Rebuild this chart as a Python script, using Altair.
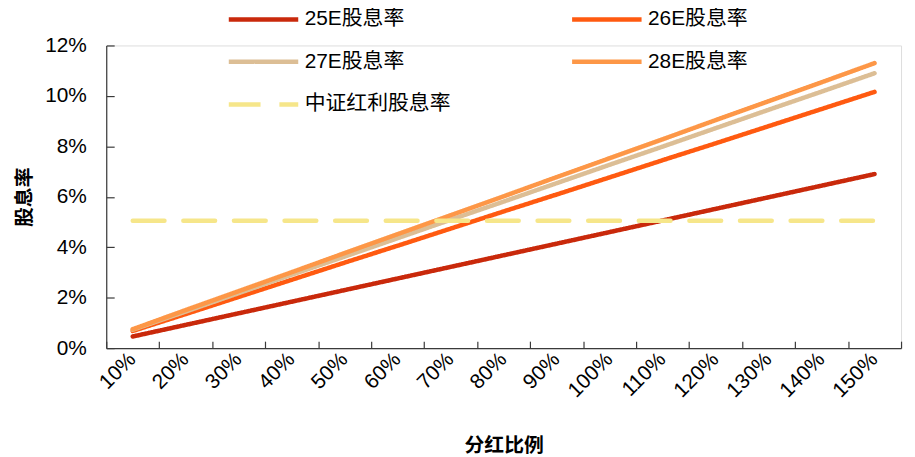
import altair as alt
import pandas as pd

ratios = ["10%", "20%", "30%", "40%", "50%", "60%", "70%", "80%", "90%", "100%",
          "110%", "120%", "130%", "140%", "150%"]
e25 = [0.46, 0.92, 1.38, 1.84, 2.30, 2.76, 3.22, 3.68, 4.14, 4.60, 5.06, 5.52, 5.98, 6.44, 6.90]
e26 = [0.68, 1.35, 2.03, 2.71, 3.39, 4.06, 4.74, 5.42, 6.09, 6.77, 7.45, 8.12, 8.80, 9.48, 10.16]
e27 = [0.73, 1.45, 2.18, 2.91, 3.63, 4.36, 5.09, 5.81, 6.54, 7.27, 7.99, 8.72, 9.45, 10.17, 10.90]
e28 = [0.75, 1.51, 2.26, 3.01, 3.77, 4.52, 5.27, 6.02, 6.78, 7.53, 8.28, 9.04, 9.79, 10.54, 11.30]
csi = [5.05] * 15

series_names = ["25E股息率", "26E股息率", "27E股息率", "28E股息率", "中证红利股息率"]
colors = ["#C9290B", "#FF5A10", "#DCBE95", "#FD9747", "#F6E68A"]
dashes = [[1, 0], [1, 0], [1, 0], [1, 0], [32, 19]]
y_ticks = [0, 2, 4, 6, 8, 10, 12]

rows = []
for name, vals in zip(series_names, [e25, e26, e27, e28, csi]):
    for r, v in zip(ratios, vals):
        rows.append({"ratio": r, "value": v, "series": name})
df = pd.DataFrame(rows)

FONT = "Liberation Sans, Noto Sans CJK SC"
AX = "#3a3a3a"

legend = alt.Legend(
    title=None, orient="none", legendX=121, legendY=-39, columns=2, direction="horizontal",
    symbolType="M-1,0H6", symbolSize=400, symbolStrokeWidth=4.5,
    labelFont=FONT, labelFontSize=21, labelColor="#000000", labelOffset=54,
    columnPadding=113, rowPadding=20, labelLimit=0, padding=0, gridAlign="each",
)

base = alt.Chart(df)

lines = base.mark_line(strokeWidth=4.5, strokeCap="round").encode(
    x=alt.X("ratio:N", sort=ratios, title="分红比例",
            scale=alt.Scale(paddingInner=0, paddingOuter=0),
            axis=alt.Axis(labelAngle=-45, labelAlign="right", labelBaseline="middle",
                          ticks=False, labelPadding=8, labelFont=FONT, labelFontSize=21,
                          labelColor="#000000", domainColor=AX, domainWidth=1.2,
                          titleFont="Noto Sans CJK SC", titleFontSize=20, titleFontWeight="bold",
                          titleColor="#000000", titlePadding=35)),
    y=alt.Y("value:Q", title="股息率",
            scale=alt.Scale(domain=[0, 12], nice=False),
            axis=alt.Axis(values=y_ticks, labelExpr="datum.value + '%'", ticks=False,
                          grid=False, labelPadding=20, labelFont=FONT, labelFontSize=21,
                          labelColor="#000000", domainColor=AX, domainWidth=1.2,
                          titleFont="Noto Sans CJK SC", titleFontSize=20, titleFontWeight="bold",
                          titleColor="#000000", titlePadding=10)),
    color=alt.Color("series:N", sort=series_names,
                    scale=alt.Scale(domain=series_names, range=colors), legend=legend),
    strokeDash=alt.StrokeDash("series:N", sort=series_names,
                              scale=alt.Scale(domain=series_names, range=dashes), legend=legend),
)

ticks = base.mark_line(opacity=0).encode(
    x=alt.X("ratio:N", sort=ratios,
            axis=alt.Axis(orient="top", offset=-305, labels=False, domain=False, title=None,
                          ticks=True, tickBand="extent", tickSize=7, tickColor=AX, tickWidth=1.2)),
    y=alt.Y("value:Q",
            axis=alt.Axis(orient="right", offset=-801, values=y_ticks, labels=False, domain=False,
                          title=None, ticks=True, tickSize=8, tickColor=AX, tickWidth=1.2, grid=False)),
)

chart = alt.layer(lines, ticks).resolve_axis(x="independent", y="independent").properties(
    width=801, height=305,
    autosize=alt.AutoSizeParams(type="none"),
    padding={"left": 99, "top": 36, "right": 6, "bottom": 112},
).configure_view(stroke=None).configure(background="#ffffff")

chart.save("out.html", embed_options={"renderer": "svg", "actions": False})
